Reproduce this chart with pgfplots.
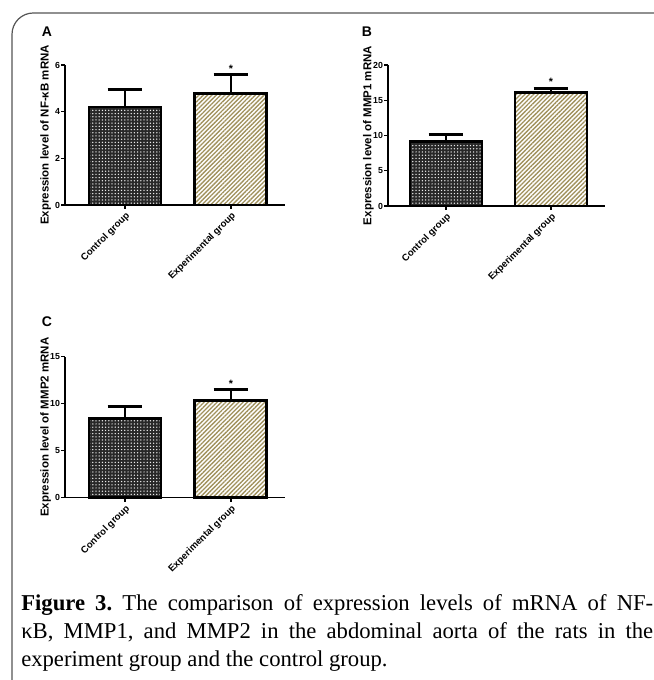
\documentclass[border=0pt]{standalone}
\usepackage{fontspec}
\setmainfont{Liberation Sans}
\newfontfamily\capfont{Liberation Serif}
\usepackage{pgfplots}
\pgfplotsset{compat=1.18}
\usetikzlibrary{patterns.meta}
\definecolor{framecol}{RGB}{85,85,85}
\definecolor{tanline}{RGB}{160,145,92}
\definecolor{darkfill}{RGB}{40,40,40}

\pgfplotsset{
  gp/.style={
    scale only axis, width=165pt,
    xmin=-0.566, xmax=1.51, ymin=0,
    axis x line*=bottom, axis y line*=left,
    xtick pos=bottom, ytick pos=left,
    axis line style={-, line width=1.1pt, black},
    xtick={0,1}, xticklabels={Control group, Experimental group},
    tick label style={font=\bfseries\fontsize{7.2}{8}\selectfont},
    xticklabel style={rotate=45, anchor=north east, inner sep=1pt},
    yticklabel style={anchor=east, inner sep=0.6pt, font=\bfseries\fontsize{6.6}{8}\selectfont},
    /pgf/number format/assume math mode=true,
    major tick style={line width=1.1pt, black},
    tick align=outside, major tick length=3pt,
    ylabel style={font=\bfseries\fontsize{8.6}{10}\selectfont,
      at={(axis description cs:-0.088,0.5)}, anchor=center},
    clip=false,
  },
  ctrl/.style={ybar, bar shift=0pt, bar width=54pt, draw=black, line width=2.2pt,
    preaction={fill=darkfill},
    pattern={Dots[radius=0.56pt, distance=2.4pt]}, pattern color=white!85!gray,
    error bars/.cd, y dir=plus, y explicit,
    error bar style={line width=1.9pt, black},
    error mark options={rotate=90, line width=1.9pt, black, mark size=13pt}},
  expt/.style={ybar, bar shift=0pt, bar width=54pt, draw=black, line width=2.2pt,
    preaction={fill=white},
    pattern={Lines[angle=45, distance=2.3pt, line width=1pt]}, pattern color=tanline,
    error bars/.cd, y dir=plus, y explicit,
    error bar style={line width=1.9pt, black},
    error mark options={rotate=90, line width=1.9pt, black, mark size=13pt}},
}

\begin{document}
\frenchspacing
\begin{tikzpicture}
\useasboundingbox (0,0) rectangle (489.75pt,510pt);
% frame
\draw[framecol, line width=0.9pt, rounded corners=16pt] (525pt,500.25pt) -- (9pt,500.25pt) -- (9pt,-60pt);

% Panel A
\node[font=\bfseries\fontsize{10.5}{12}\selectfont] at (35.25pt,486pt) {A};
\begin{axis}[gp, at={(48.75pt,356.25pt)}, anchor=south west, height=105pt,
  ymax=6, ytick={0,2,4,6},
  ylabel={Expression level of NF-κB mRNA}]
\addplot[ctrl] coordinates {(0,4.2) +- (0,0.75)};
\addplot[expt] coordinates {(1,4.78) +- (0,0.82)};
\node[font=\bfseries\fontsize{8}{8}\selectfont, anchor=south, inner sep=0pt, yshift=1.5pt] at (axis cs:1,5.6) {*};
\end{axis}

% Panel B
\node[font=\bfseries\fontsize{10.5}{12}\selectfont] at (275.25pt,486pt) {B};
\begin{axis}[gp, at={(291pt,355.5pt)}, anchor=south west, height=105.75pt, width=162.75pt,
  xmin=-0.552, xmax=1.514,
  ymax=20, ytick={0,5,10,15,20},
  ylabel style={at={(axis description cs:-0.09,0.5)}},
  ylabel={Expression level of MMP1 mRNA}]
\addplot[ctrl] coordinates {(0,9.2) +- (0,0.97)};
\addplot[expt] coordinates {(1,16.13) +- (0,0.57)};
\node[font=\bfseries\fontsize{8}{8}\selectfont, anchor=south, inner sep=0pt, yshift=1.5pt] at (axis cs:1,16.7) {*};
\end{axis}

% Panel C
\node[font=\bfseries\fontsize{10.5}{12}\selectfont] at (35.25pt,268.5pt) {C};
\begin{axis}[gp, at={(48.75pt,136.7pt)}, anchor=south west, height=105.75pt,
  ymax=15, ytick={0,5,10,15},
  ylabel={Expression level of MMP2 mRNA}]
\addplot[ctrl] coordinates {(0,8.45) +- (0,1.23)};
\addplot[expt] coordinates {(1,10.36) +- (0,1.17)};
\node[font=\bfseries\fontsize{8}{8}\selectfont, anchor=south, inner sep=0pt, yshift=1.5pt] at (axis cs:1,11.53) {*};
\end{axis}

% caption
\begin{scope}[every node/.style={anchor=base west, inner sep=0pt, font=\capfont\fontsize{17}{21}\selectfont}]
\node at (15.75pt,51.75pt) {\makebox[474pt][s]{\textbf{Figure 3.} The comparison of expression levels of mRNA of NF-}};
\node at (15.75pt,30.75pt) {\makebox[474pt][s]{κB, MMP1, and MMP2 in the abdominal aorta of the rats in the}};
\node at (15.75pt,9.75pt) {experiment group and the control group.};
\end{scope}
\end{tikzpicture}
\end{document}
